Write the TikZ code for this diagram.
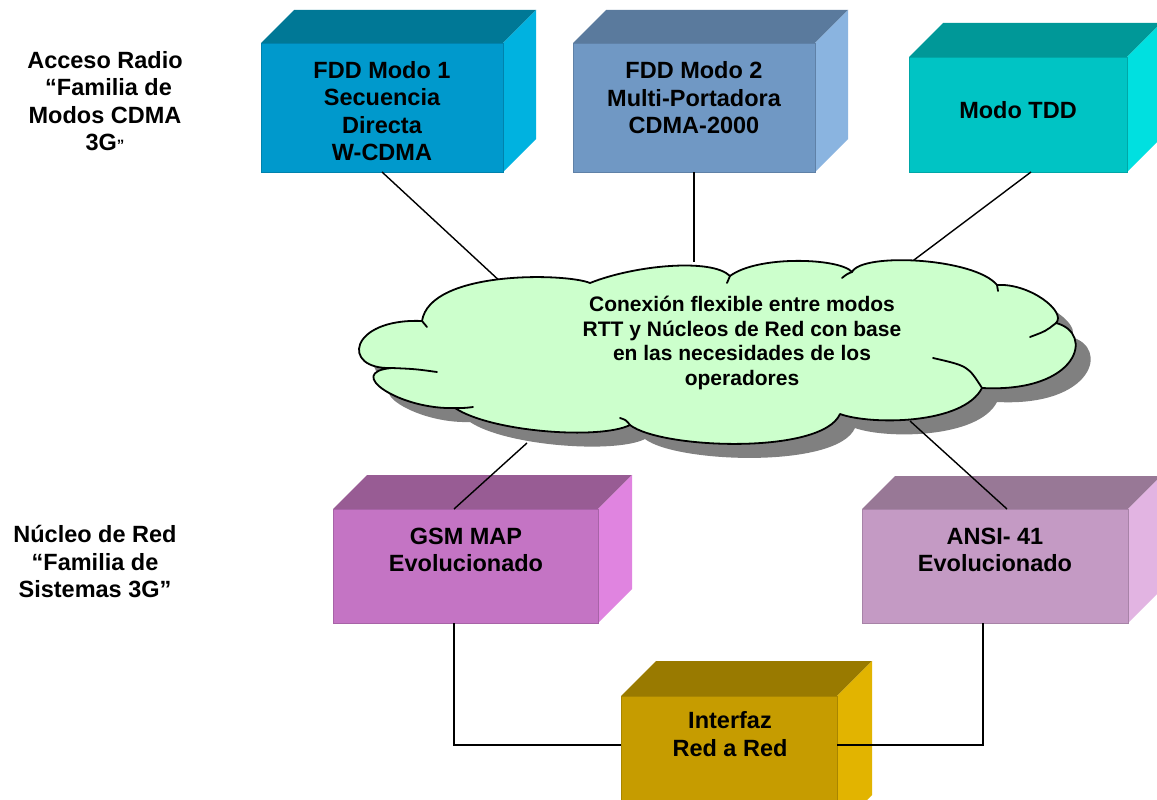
\documentclass[tikz,border=0pt]{standalone}
\usepackage{fontspec}
\setmainfont{Liberation Sans}
\usetikzlibrary{calc}

% face colours of the prisms
\definecolor{fddAfront}{RGB}{0,153,204}
\definecolor{fddAtop}{RGB}{0,120,150}
\definecolor{fddAside}{RGB}{0,178,224}
\definecolor{fddBfront}{RGB}{112,152,196}
\definecolor{fddBtop}{RGB}{90,122,157}
\definecolor{fddBside}{RGB}{138,180,224}
\definecolor{tddfront}{RGB}{0,196,196}
\definecolor{tddtop}{RGB}{0,152,152}
\definecolor{tddside}{RGB}{0,224,224}
\definecolor{gsmfront}{RGB}{196,116,196}
\definecolor{gsmtop}{RGB}{152,92,148}
\definecolor{gsmside}{RGB}{224,132,224}
\definecolor{ansifront}{RGB}{196,154,196}
\definecolor{ansitop}{RGB}{152,120,150}
\definecolor{ansiside}{RGB}{226,180,226}
\definecolor{irrfront}{RGB}{198,156,0}
\definecolor{irrtop}{RGB}{153,122,0}
\definecolor{irrside}{RGB}{226,180,0}
\definecolor{cloudfill}{RGB}{204,255,204}
\definecolor{cloudshadow}{RGB}{128,128,128}

% prism: name, x0, y0, x1, y1 (front face), depth, colour prefix
\newcommand\prism[7]{%
  \fill[#7top] (#2,#3) -- ({#2+#6},{#3-#6}) -- ({#4+#6},{#3-#6}) -- (#4,#3) -- cycle;
  \fill[#7side] (#4,#3) -- ({#4+#6},{#3-#6}) -- ({#4+#6},{#5-#6}) -- (#4,#5) -- cycle;
  \node[face, fill=#7front, draw=#7front!85!black,
        minimum width={(#4-#2)*1pt}, minimum height={(#5-#3)*1pt}]
        (#1) at ({(#2+#4)/2},{(#3+#5)/2}) {};
}

% outline of the cloud
\newcommand\cloudshape{%
  (422,321) .. controls (430,270) and (566,273) .. (590,283)
  .. controls (635,265) and (712,258) .. (730,276)
  .. controls (758,255) and (840,258) .. (852,272)
  .. controls (862,252) and (975,258) .. (997,285)
  .. controls (1030,283) and (1067,312) .. (1056,323)
  .. controls (1095,333) and (1079,393) .. (982,388)
  .. controls (963,425) and (870,425) .. (840,414)
  .. controls (822,455) and (661,449) .. (630,425)
  .. controls (600,440) and (491,432) .. (455,408)
  .. controls (400,410) and (343,372) .. (392,368)
  .. controls (340,370) and (349,318) .. (422,321) -- cycle}

\begin{document}
\begin{tikzpicture}[x=1pt,y=-1pt,
  face/.style={inner sep=0pt, outer sep=0pt, line width=0.8pt},
  lbl/.style={align=center, inner sep=0pt, font=\fontsize{23.5}{27.5}\selectfont\bfseries},
  cloudtxt/.style={align=center, inner sep=0pt, font=\fontsize{21}{24.5}\selectfont\bfseries},
  conn/.style={draw=black, line width=1.4pt},
  cloudline/.style={draw=black, line width=1.8pt, line cap=round}]

\useasboundingbox (0,0) rectangle (1157,800);
\clip (0,0) rectangle (1157,800);
\fill[white] (0,0) rectangle (1157,800);

% radio access modes
\prism{b1}{261}{43}{503}{172}{33}{fddA}
\prism{b2}{573}{43}{815}{172}{33}{fddB}
\prism{b3}{909}{57}{1127}{172}{34}{tdd}
% core networks
\prism{gsm}{333}{509}{598}{623}{34}{gsm}
\prism{ansi}{862}{509}{1128}{623}{33}{ansi}
% network-to-network interface
\prism{irr}{621}{696}{837}{830}{35}{irr}

% cloud shadow
\fill[cloudshadow, shift={(15,14)}] \cloudshape;

% connection points on the cloud
\coordinate (c1) at (503,284);
\coordinate (c2) at (694,262);
\coordinate (c3) at (910,263);
\coordinate (c4) at (527,443);
\coordinate (c5) at (910,421);

% connectors
\draw[conn] (b1.south) -- (c1);
\draw[conn] (b2.south) -- (c2);
\draw[conn] ($(b3.south)+(13,0)$) -- (c3);
\draw[conn] ($(gsm.north)+(-11.5,0)$) -- (c4);
\draw[conn] ($(ansi.north)+(12,0)$) -- (c5);
\draw[conn] ($(gsm.south)+(-11.5,0)$) |- ($(irr.north west)+(0,49)$);
\draw[conn] ($(ansi.south)+(-12,0)$) |- ($(irr.north east)+(0,49)$);

% cloud
\fill[cloudfill] \cloudshape;
\draw[cloudline, line join=round] \cloudshape;
% inner ends of the cloud arcs
\draw[cloudline] (422,321) .. controls (424,324) .. (427,327);
\draw[cloudline] (392,368) .. controls (415,369) .. (437,372);
\draw[cloudline] (455,408) .. controls (465,408) .. (473,407);
\draw[cloudline] (620,418) .. controls (626,420) .. (630,425);
\draw[cloudline] (933,358) .. controls (968,366) .. (982,388);
\draw[cloudline] (1056,323) .. controls (1046,331) .. (1030,337);
\draw[cloudline] (842,278) .. controls (847,274) .. (852,272);
\draw[cloudline] (727,283) .. controls (728,279) .. (730,276);
\draw[cloudline] (997,285) .. controls (998,288) .. (998,291);

% texts
\node[lbl] (t1) at (382,111) {FDD Modo 1\\Secuencia\\Directa\\W-CDMA};
\node[lbl] (t2) at (694,98) {FDD Modo 2\\Multi-Portadora\\CDMA-2000};
\node[lbl] (t3) at (1018,110) {Modo TDD};
\node[lbl] (t4) at (466,550) {GSM MAP\\Evolucionado};
\node[lbl] (t5) at (995,550) {ANSI- 41\\Evolucionado};
\node[lbl] (t6) at (730,734) {Interfaz\\Red a Red};
\node[cloudtxt] (ct) at (742,343) {Conexión flexible entre modos\\RTT y Núcleos de Red con base\\en las necesidades de los\\operadores};
\node[lbl] (acc) at (105,101) {Acceso Radio\\\hspace*{0.3em}“Familia de\\Modos CDMA\\3G{\fontsize{15}{15}\selectfont ”}};
\node[lbl] (nuc) at (95,562) {Núcleo de Red\\“Familia de\\Sistemas 3G”};

\end{tikzpicture}
\end{document}
